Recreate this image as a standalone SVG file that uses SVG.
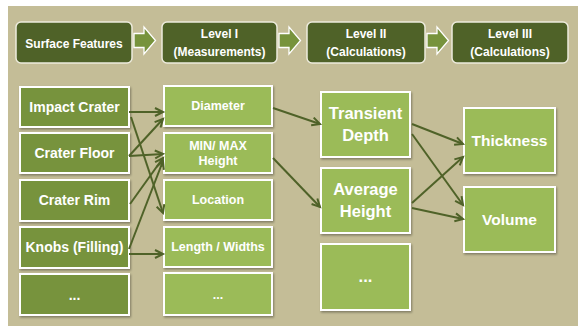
<svg xmlns="http://www.w3.org/2000/svg" width="578" height="326" viewBox="0 0 578 326">
<defs>
<filter id="sh" x="-10%" y="-10%" width="130%" height="130%">
<feDropShadow dx="1" dy="1.5" stdDeviation="1" flood-color="#000" flood-opacity="0.35"/>
</filter>
<marker id="ah" markerUnits="userSpaceOnUse" markerWidth="12" markerHeight="12" refX="9" refY="5" orient="auto">
<path d="M1,1 L9,5 L1,9" fill="none" stroke="#4F6228" stroke-width="2" stroke-linejoin="miter"/>
</marker>
</defs>
<style>
text{font-family:"Liberation Sans",Arial,sans-serif;font-weight:bold;fill:#fff;text-anchor:middle}
.hd rect{fill:#4F6228;stroke:#EDEBDD;stroke-width:1.5}
.hd text{font-size:12px}
.c1 rect{fill:#77933C;stroke:#fff;stroke-width:2;filter:url(#sh)}
.c2 rect,.c3 rect,.c4 rect{fill:#9BBB59;stroke:#fff;stroke-width:2;filter:url(#sh)}
.c1 text{font-size:14px}
.c2 text{font-size:12.5px}
.c3 text{font-size:16.5px}
.c4 text{font-size:15.5px}
.ba{fill:#77933C;stroke:#fff;stroke-width:1.3}
#connectors line{stroke:#4F6228;stroke-width:2;marker-end:url(#ah)}
</style>
<rect x="8" y="6" width="570" height="320" fill="#C4BD97"/>

<g id="hdr-surface" class="hd"><rect x="16" y="22" width="116" height="41" rx="5"/><text x="74" y="48">Surface Features</text></g>
<g id="hdr-level1" class="hd"><rect x="162" y="22" width="115" height="41" rx="5"/><text x="219.5" y="38">Level I</text><text x="219.5" y="56">(Measurements)</text></g>
<g id="hdr-level2" class="hd"><rect x="307" y="22" width="118" height="41" rx="5"/><text x="366" y="38">Level II</text><text x="366" y="56">(Calculations)</text></g>
<g id="hdr-level3" class="hd"><rect x="452" y="22" width="116" height="41" rx="5"/><text x="510" y="38">Level III</text><text x="510" y="56">(Calculations)</text></g>

<g id="block-arrows">
<path class="ba" d="M134,33.5 H144 V27 L155.5,40.5 L144,54 V47.5 H134 Z"/>
<path class="ba" d="M279,33.5 H289 V27 L300.5,40.5 L289,54 V47.5 H279 Z"/>
<path class="ba" d="M427,33.5 H437 V27 L448.5,40.5 L437,54 V47.5 H427 Z"/>
</g>

<g id="impact-crater" class="c1"><rect x="20" y="87" width="109" height="40"/><text x="74.5" y="112">Impact Crater</text></g>
<g id="crater-floor" class="c1"><rect x="20" y="133" width="109" height="40"/><text x="74.5" y="158">Crater Floor</text></g>
<g id="crater-rim" class="c1"><rect x="20" y="180" width="109" height="41"/><text x="74.5" y="205">Crater Rim</text></g>
<g id="knobs" class="c1"><rect x="20" y="227" width="109" height="41"/><text x="74.5" y="252">Knobs (Filling)</text></g>
<g id="more1" class="c1"><rect x="20" y="274" width="109" height="41"/><text x="74.5" y="300">...</text></g>

<g id="diameter" class="c2"><rect x="164" y="86" width="108" height="40"/><text x="218" y="110">Diameter</text></g>
<g id="minmax-height" class="c2"><rect x="164" y="133" width="108" height="40"/><text x="218" y="150">MIN/ MAX</text><text x="218" y="165">Height</text></g>
<g id="location" class="c2"><rect x="164" y="180" width="108" height="40"/><text x="218" y="204">Location</text></g>
<g id="length-widths" class="c2"><rect x="164" y="227" width="108" height="40"/><text x="218" y="251">Length / Widths</text></g>
<g id="more2" class="c2"><rect x="164" y="273" width="108" height="42"/><text x="218" y="299">...</text></g>

<g id="transient-depth" class="c3"><rect x="321" y="92" width="89" height="65"/><text x="365.5" y="119">Transient</text><text x="365.5" y="141">Depth</text></g>
<g id="average-height" class="c3"><rect x="321" y="168" width="89" height="65"/><text x="365.5" y="195">Average</text><text x="365.5" y="217">Height</text></g>
<g id="more3" class="c3"><rect x="321" y="244" width="89" height="66"/><text x="365.5" y="282">...</text></g>

<g id="thickness" class="c4"><rect x="464" y="108" width="91" height="65"/><text x="509.5" y="146">Thickness</text></g>
<g id="volume" class="c4"><rect x="464" y="187" width="91" height="65"/><text x="509.5" y="225">Volume</text></g>

<g id="connectors">
<line x1="129" y1="112" x2="163" y2="112"/>
<line x1="131" y1="117" x2="163" y2="213"/>
<line x1="129" y1="156" x2="163" y2="119"/>
<line x1="129" y1="156" x2="163" y2="154"/>
<line x1="130" y1="204" x2="163" y2="158"/>
<line x1="129" y1="249" x2="163" y2="161"/>
<line x1="129" y1="254" x2="163" y2="254"/>
<line x1="273" y1="108" x2="320" y2="124"/>
<line x1="273" y1="158" x2="320" y2="207"/>
<line x1="412" y1="124" x2="463" y2="144"/>
<line x1="412" y1="134" x2="463" y2="205"/>
<line x1="412" y1="203" x2="463" y2="157"/>
<line x1="412" y1="208" x2="463" y2="219"/>
</g>
</svg>
